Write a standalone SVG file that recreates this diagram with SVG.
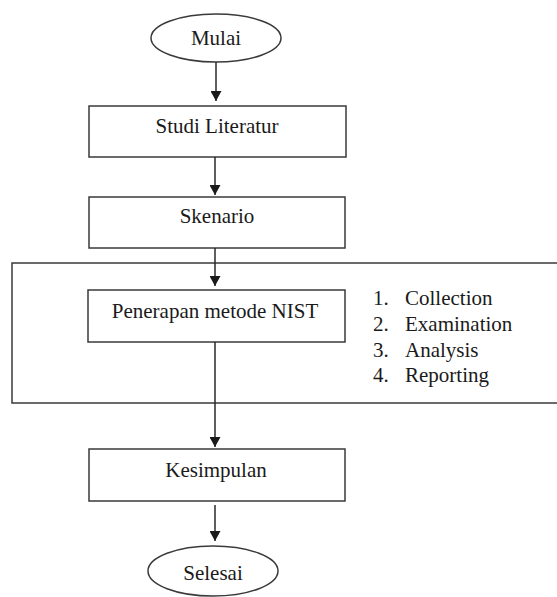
<svg xmlns="http://www.w3.org/2000/svg" width="557" height="597" viewBox="0 0 557 597">
<style>
.shape{fill:#fff;stroke:#3a3a3a;stroke-width:1.5}
.frame{fill:none;stroke:#3a3a3a;stroke-width:1.5}
.lbl{font-family:'Liberation Serif','Times New Roman',serif;font-size:21px;fill:#1a1a1a}
.mid{text-anchor:middle}
.conn{stroke:#2a2a2a;stroke-width:1.5;fill:none;marker-end:url(#arr)}
</style>
<defs>
<marker id="arr" viewBox="0 0 10 11" refX="10" refY="5.5" markerWidth="10" markerHeight="11" markerUnits="userSpaceOnUse" orient="auto">
<path d="M0,0 L10,5.5 L0,11 Z" fill="#1a1a1a"/>
</marker>
</defs>
<rect width="557" height="597" fill="#fff"/>
<g id="frame">
<path class="frame" d="M560,263 H12 V403 H560"/>
</g>
<g id="mulai">
<ellipse class="shape" cx="216" cy="38" rx="65" ry="24"/>
<text class="lbl mid" x="216" y="45">Mulai</text>
</g>
<g id="studi">
<rect class="shape" x="89" y="106" width="257" height="51"/>
<text class="lbl mid" x="217" y="133">Studi Literatur</text>
</g>
<g id="skenario">
<rect class="shape" x="89" y="197" width="256" height="51"/>
<text class="lbl mid" x="217" y="223">Skenario</text>
</g>
<g id="penerapan">
<rect class="shape" x="88" y="290" width="257" height="52"/>
<text class="lbl mid" x="215" y="318">Penerapan metode NIST</text>
</g>
<g id="list">
<text class="lbl" x="373" y="305">1.</text><text class="lbl" x="405" y="305">Collection</text>
<text class="lbl" x="373" y="331">2.</text><text class="lbl" x="405" y="331">Examination</text>
<text class="lbl" x="373" y="357">3.</text><text class="lbl" x="405" y="357">Analysis</text>
<text class="lbl" x="373" y="382">4.</text><text class="lbl" x="405" y="382">Reporting</text>
</g>
<g id="kesimpulan">
<rect class="shape" x="89" y="449" width="256" height="52"/>
<text class="lbl mid" x="216" y="477">Kesimpulan</text>
</g>
<g id="selesai">
<ellipse class="shape" cx="213" cy="571" rx="65" ry="25"/>
<text class="lbl mid" x="213" y="580">Selesai</text>
</g>
<g id="connectors">
<line class="conn" x1="216" y1="62" x2="216" y2="101"/>
<line class="conn" x1="215" y1="157" x2="215" y2="195"/>
<line class="conn" x1="215" y1="248" x2="215" y2="286"/>
<line class="conn" x1="215" y1="342" x2="215" y2="447"/>
<line class="conn" x1="215" y1="505" x2="215" y2="541"/>
</g>
</svg>
